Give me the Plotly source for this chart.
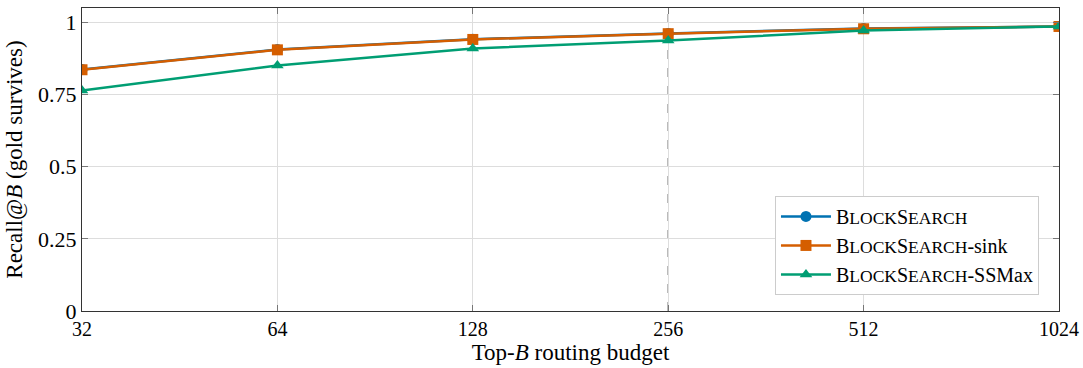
import math
import plotly.graph_objects as go

budgets = [32, 64, 128, 256, 512, 1024]
tick_labels = ["32", "64", "128", "256", "512", "1024"]
blocksearch = [0.837, 0.906, 0.942, 0.962, 0.979, 0.986]
blocksearch_sink = [0.836, 0.905, 0.941, 0.961, 0.978, 0.986]
blocksearch_ssmax = [0.764, 0.851, 0.910, 0.937, 0.972, 0.986]
y_ticks = [0, 0.25, 0.5, 0.75, 1]
y_tick_labels = ["0", "0.25", "0.5", "0.75", "1"]

def sc(rest):
    return f'B<span style="font-size:17.5px">LOCK</span>S<span style="font-size:17.5px">EARCH</span>{rest}'

fig = go.Figure()
series = [
    (sc(""), blocksearch, "#0072B2", "circle"),
    (sc("-sink"), blocksearch_sink, "#D55E00", "square"),
    (sc("-SSMax"), blocksearch_ssmax, "#009E73", "triangle-up"),
]
for name, vals, col, sym in series:
    fig.add_trace(go.Scatter(
        x=budgets, y=vals, name=name, mode="lines+markers",
        line=dict(color=col, width=2.5),
        marker=dict(symbol=sym, size=11, color=col),
    ))

fig.add_shape(type="line", xref="x", yref="paper", x0=256, x1=256, y0=0, y1=1,
              line=dict(color="#555555", width=1.2, dash="dash"), layer="below")

fig.update_layout(
    width=1083, height=368,
    margin=dict(l=82, r=24, t=8, b=57),
    paper_bgcolor="white", plot_bgcolor="white",
    font=dict(family="Liberation Serif", size=20, color="black"),
    legend=dict(x=0.9795, y=0.053, xanchor="right", yanchor="bottom",
                bgcolor="white", bordercolor="#cccccc", borderwidth=1,
                font=dict(size=20), tracegroupgap=0, itemwidth=50),
    showlegend=True,
)
fig.update_xaxes(
    type="log", range=[math.log10(32), math.log10(1024)], tickvals=budgets, ticktext=tick_labels,
    showgrid=True, gridcolor="#dddddd", gridwidth=1,
    showline=True, linecolor="#333333", linewidth=1.2, mirror="ticks",
    ticks="inside", ticklen=6, tickcolor="#777777",
    tickfont=dict(size=20), automargin=False,
    title=dict(text="Top-<i>B</i> routing budget", font=dict(size=23), standoff=4),
    zeroline=False,
)
fig.update_yaxes(
    range=[0, 1.05], tickvals=y_ticks, ticktext=y_tick_labels,
    showgrid=True, gridcolor="#dddddd", gridwidth=1,
    showline=True, linecolor="#333333", linewidth=1.2, mirror="ticks",
    ticks="inside", ticklen=6, tickcolor="#777777",
    tickfont=dict(size=22), automargin=False,
    title=dict(text="Recall@<i>B</i> (gold survives)", font=dict(size=23), standoff=8),
    zeroline=False,
)

fig.write_html("out.html", config={"displayModeBar": False},
               post_script="document.body.style.margin='0';document.body.style.overflow='hidden';")
